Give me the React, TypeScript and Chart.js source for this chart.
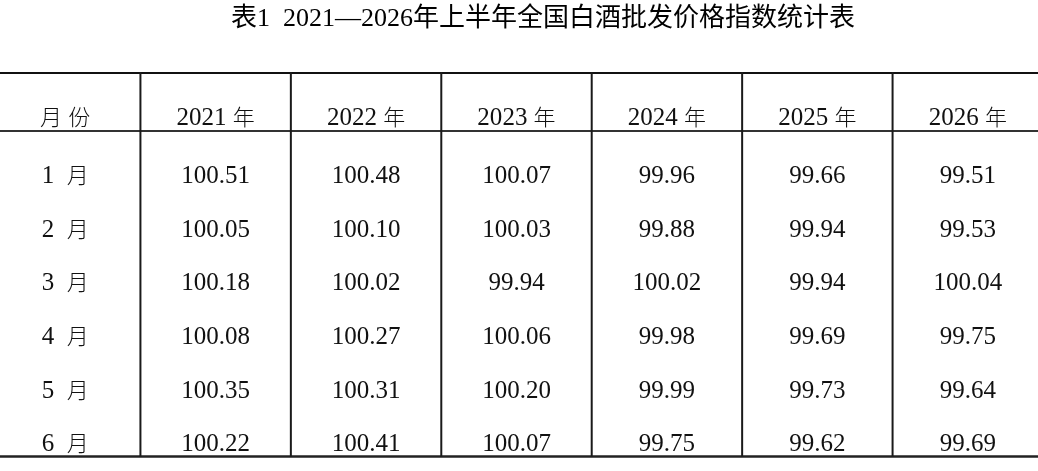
import React, { useEffect, useRef } from "react";
import { Chart, registerables } from "chart.js";

Chart.register(...registerables);

const titleText = "表1  2021—2026年上半年全国白酒批发价格指数统计表";
const headerLabel = "月 份";
const years = ["2021 年", "2022 年", "2023 年", "2024 年", "2025 年", "2026 年"];
const months = ["1  月", "2  月", "3  月", "4  月", "5  月", "6  月"];

const v2021 = [100.51, 100.05, 100.18, 100.08, 100.35, 100.22];
const v2022 = [100.48, 100.1, 100.02, 100.27, 100.31, 100.41];
const v2023 = [100.07, 100.03, 99.94, 100.06, 100.2, 100.07];
const v2024 = [99.96, 99.88, 100.02, 99.98, 99.99, 99.75];
const v2025 = [99.66, 99.94, 99.94, 99.69, 99.73, 99.62];
const v2026 = [99.51, 99.53, 100.04, 99.75, 99.64, 99.69];

const series = [v2021, v2022, v2023, v2024, v2025, v2026];

const LATIN_FONT = '25px "Liberation Serif", serif';
const CJK_FONT = '300 22px "Noto Sans CJK SC", sans-serif';
const TITLE_FONT = '26px "Liberation Serif", "Noto Sans CJK SC", serif';

const isCJK = (ch: string) => /[\u3400-\u9fff]/.test(ch);

function drawMixed(ctx: CanvasRenderingContext2D, text: string, cx: number, cy: number) {
  const runs: { t: string; cjk: boolean }[] = [];
  for (const ch of text) {
    const c = isCJK(ch);
    const last = runs[runs.length - 1];
    if (last && last.cjk === c) last.t += ch;
    else runs.push({ t: ch, cjk: c });
  }
  const widths = runs.map((r) => {
    ctx.font = r.cjk ? CJK_FONT : LATIN_FONT;
    return ctx.measureText(r.t).width;
  });
  const total = widths.reduce((a, b) => a + b, 0);
  let x = cx - total / 2;
  ctx.textAlign = "left";
  ctx.textBaseline = "alphabetic";
  runs.forEach((r, k) => {
    ctx.font = r.cjk ? CJK_FONT : LATIN_FONT;
    ctx.fillText(r.t, x, cy + (r.cjk ? 8.2 : 8.3));
    x += widths[k];
  });
}

const tablePlugin = {
  id: "tablePlugin",
  afterDraw(chart: any) {
    const { ctx, chartArea, scales } = chart;
    const xs = scales.x;
    const ys = scales.y;
    ctx.save();

    // title
    ctx.fillStyle = "#000";
    ctx.font = TITLE_FONT;
    ctx.textAlign = "center";
    ctx.textBaseline = "middle";
    ctx.fillText(titleText, 553, 19);

    // top border
    ctx.strokeStyle = "#111";
    ctx.lineWidth = 2;
    ctx.beginPath();
    ctx.moveTo(chartArea.left, chartArea.top + 1);
    ctx.lineTo(chartArea.right, chartArea.top + 1);
    ctx.stroke();
    // header rule
    const hy = ys.getPixelForValue(0.18);
    ctx.strokeStyle = "#333";
    ctx.lineWidth = 2;
    ctx.beginPath();
    ctx.moveTo(chartArea.left, hy);
    ctx.lineTo(xs.getPixelForValue(6.47), hy);
    ctx.stroke();
    // bottom border
    ctx.strokeStyle = "#222";
    ctx.lineWidth = 2.5;
    ctx.beginPath();
    ctx.moveTo(chartArea.left, chartArea.bottom - 1.5);
    ctx.lineTo(chartArea.right, chartArea.bottom - 1.5);
    ctx.stroke();
    // vertical lines
    ctx.strokeStyle = "#1a1a1a";
    ctx.lineWidth = 2;
    for (let i = 0; i < years.length; i++) {
      const x = xs.getPixelForValue(i + 0.5);
      ctx.beginPath();
      ctx.moveTo(x, chartArea.top);
      ctx.lineTo(x, chartArea.bottom - 1.5);
      ctx.stroke();
    }

    // text
    ctx.fillStyle = "#111";
    const headY = ys.getPixelForValue(-0.08);
    drawMixed(ctx, headerLabel, xs.getPixelForValue(0), headY);
    years.forEach((y, j) => drawMixed(ctx, y, xs.getPixelForValue(j + 1), headY));
    months.forEach((m, i) => {
      const py = ys.getPixelForValue(i + 1);
      drawMixed(ctx, m, xs.getPixelForValue(0), py);
      series.forEach((vals, j) => {
        drawMixed(ctx, vals[i].toFixed(2), xs.getPixelForValue(j + 1), py);
      });
    });
    ctx.restore();
  },
};

export default function App() {
  const ref = useRef<HTMLCanvasElement | null>(null);
  useEffect(() => {
    if (!ref.current) return;
    const chart = new Chart(ref.current, {
      type: "scatter",
      data: {
        datasets: series.map((vals, j) => ({
          label: years[j],
          data: vals.map((_v, i) => ({ x: j + 1, y: i + 1 })),
          pointRadius: 0,
          pointHoverRadius: 0,
        })),
      },
      options: {
        animation: false,
        responsive: true,
        maintainAspectRatio: false,
        events: [],
        layout: { padding: { top: 72, bottom: 13, left: 0, right: 0 } },
        plugins: { legend: { display: false }, tooltip: { enabled: false }, title: { display: false } },
        scales: {
          x: { type: "linear", min: -0.5, max: 6.5, display: false },
          y: { type: "linear", reverse: true, min: -0.92, max: 6.28, display: false },
        },
      },
      plugins: [tablePlugin],
    });
    return () => chart.destroy();
  }, []);

  return (
    <div
      style={{
        position: "fixed",
        left: 0,
        top: 0,
        width: 1038,
        height: 471,
        overflow: "hidden",
        background: "#fff",
      }}
    >
      <div style={{ position: "absolute", left: -10.4, top: 0, width: 1053, height: 471 }}>
        <canvas ref={ref} />
      </div>
    </div>
  );
}
